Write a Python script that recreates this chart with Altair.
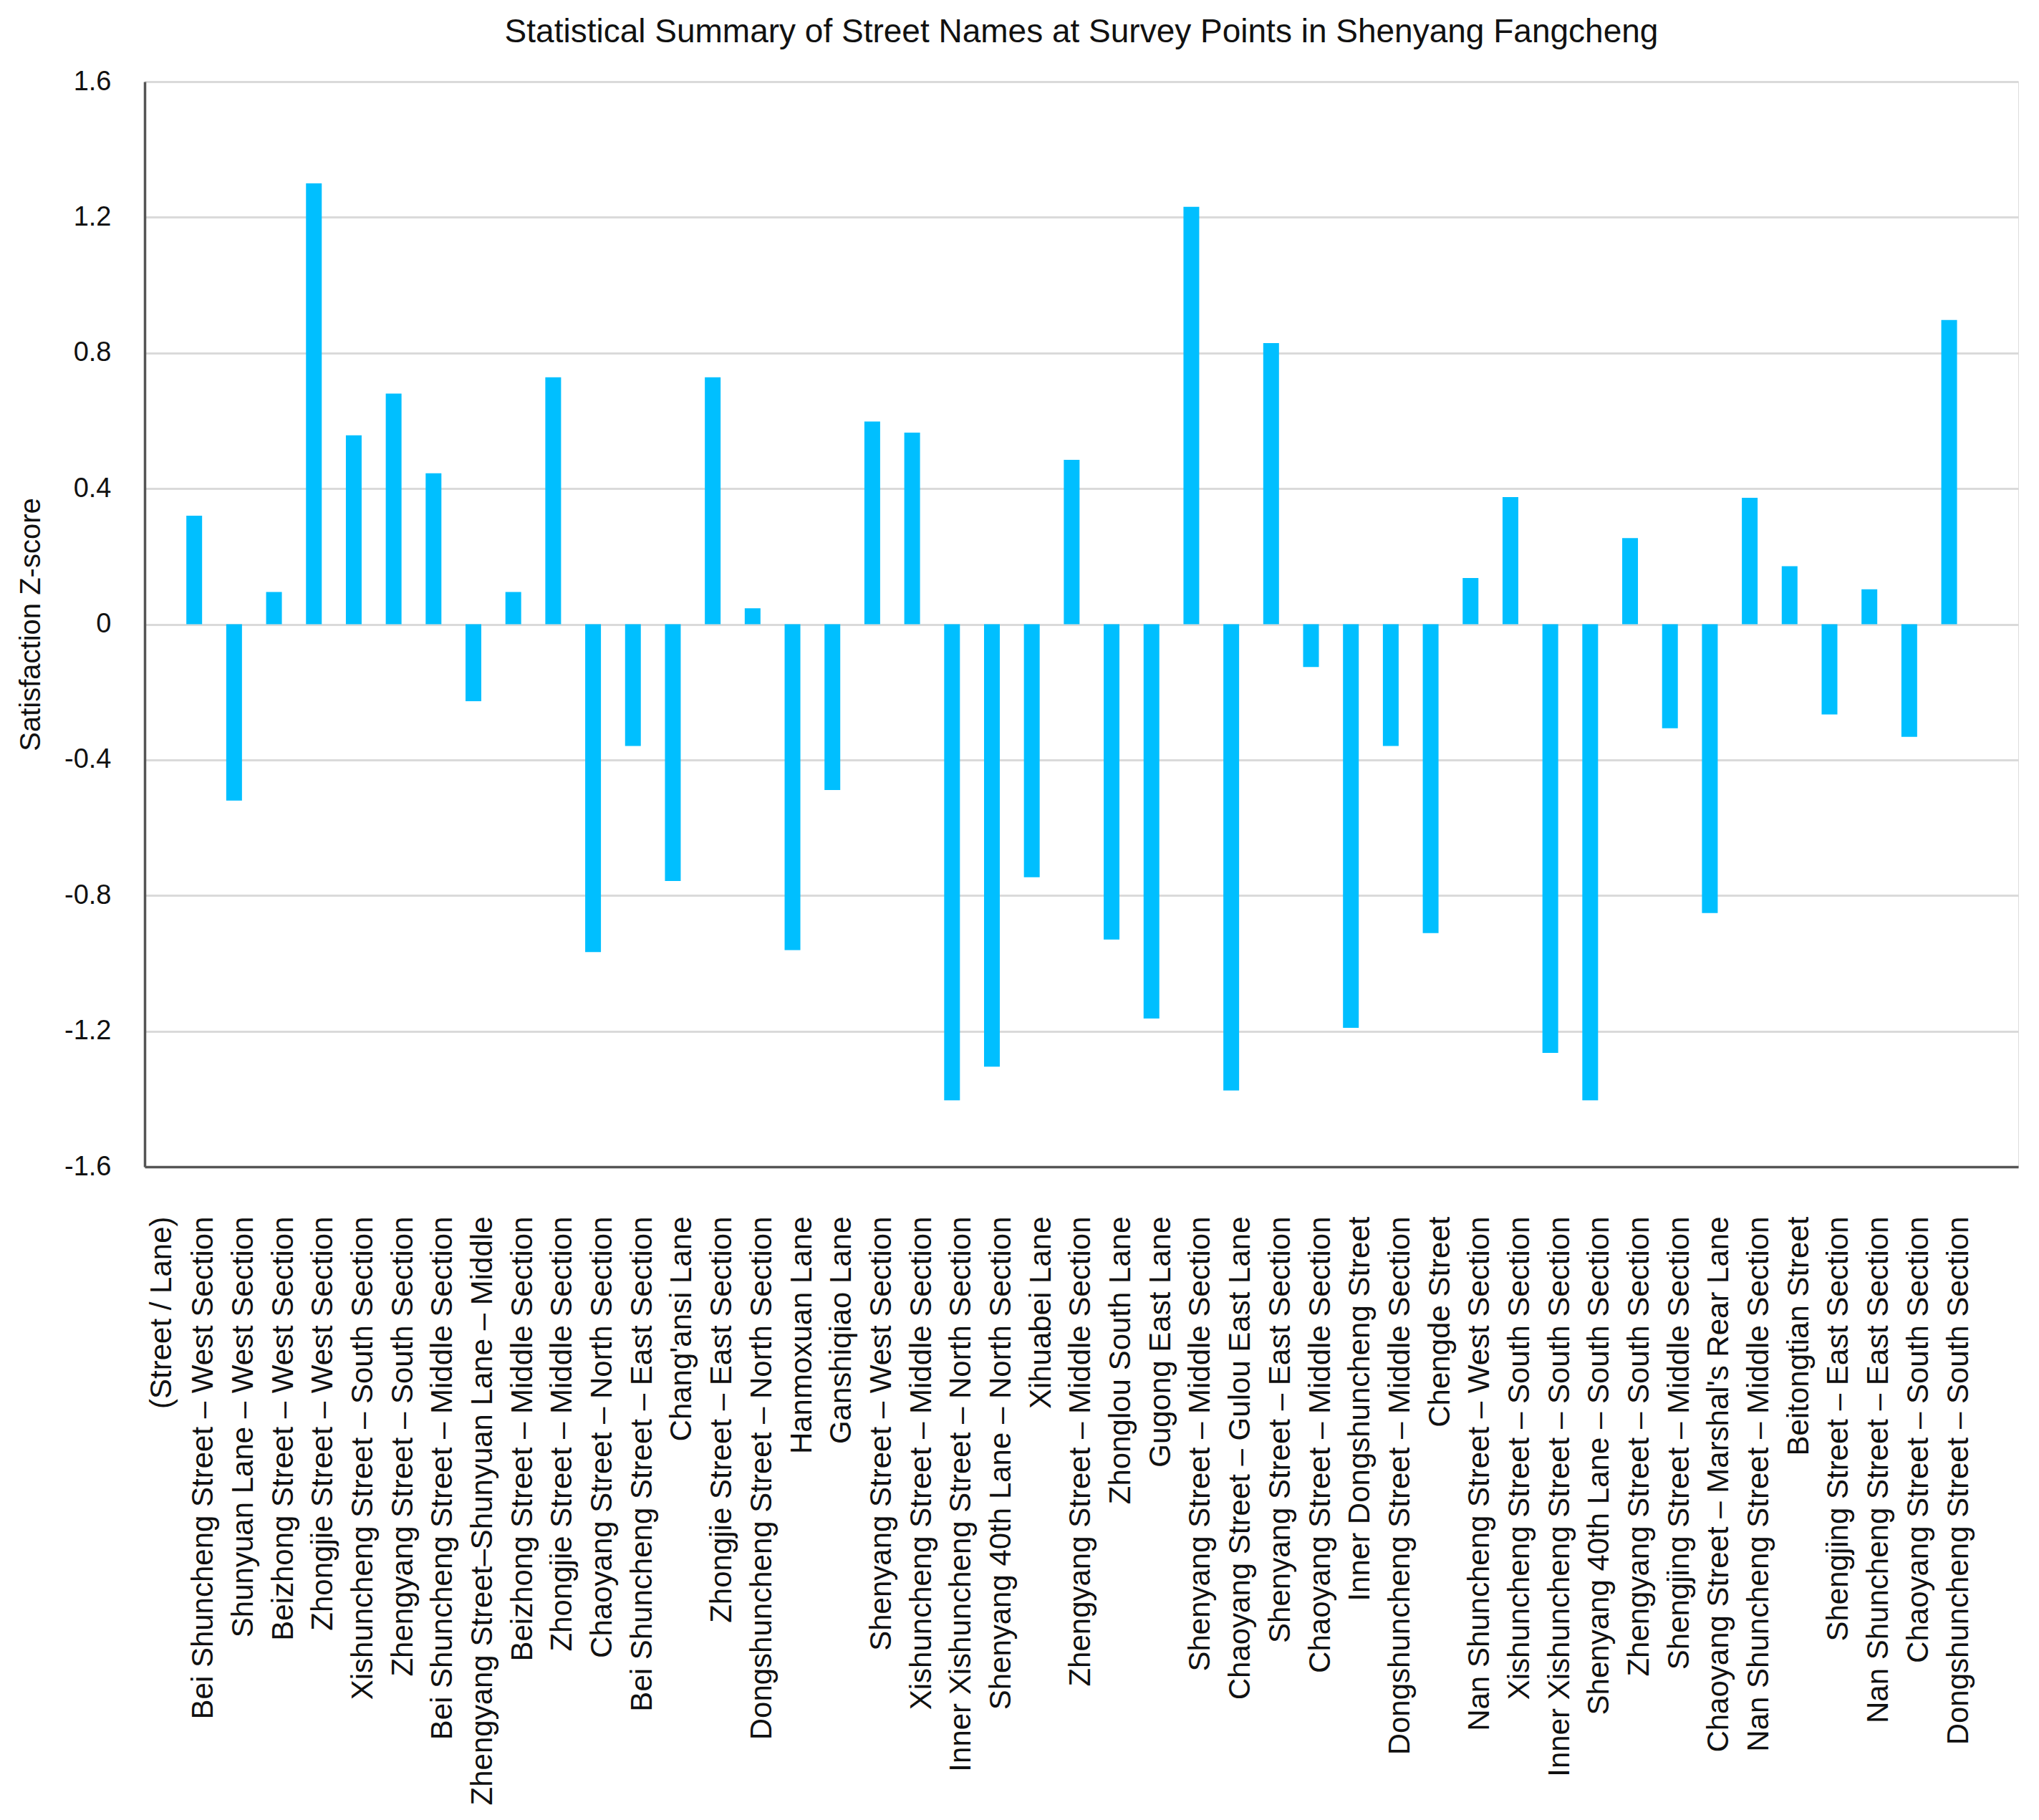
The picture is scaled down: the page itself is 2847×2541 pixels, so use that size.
import json
import altair as alt
import pandas as pd

# ---- data ----
street_names = [
    "Bei Shuncheng Street – West Section",
    "Shunyuan Lane – West Section",
    "Beizhong Street – West Section",
    "Zhongjie Street – West Section",
    "Xishuncheng Street – South Section",
    "Zhengyang Street – South Section",
    "Bei Shuncheng Street – Middle Section",
    "Zhengyang Street–Shunyuan Lane – Middle",
    "Beizhong Street – Middle Section",
    "Zhongjie Street – Middle Section",
    "Chaoyang Street – North Section",
    "Bei Shuncheng Street – East Section",
    "Chang'ansi Lane",
    "Zhongjie Street – East Section",
    "Dongshuncheng Street – North Section",
    "Hanmoxuan Lane",
    "Ganshiqiao Lane",
    "Shenyang Street – West Section",
    "Xishuncheng Street – Middle Section",
    "Inner Xishuncheng Street – North Section",
    "Shenyang 40th Lane – North Section",
    "Xihuabei Lane",
    "Zhengyang Street – Middle Section",
    "Zhonglou South Lane",
    "Gugong East Lane",
    "Shenyang Street – Middle Section",
    "Chaoyang Street – Gulou East Lane",
    "Shenyang Street – East Section",
    "Chaoyang Street – Middle Section",
    "Inner Dongshuncheng Street",
    "Dongshuncheng Street – Middle Section",
    "Chengde Street",
    "Nan Shuncheng Street – West Section",
    "Xishuncheng Street – South Section",
    "Inner Xishuncheng Street – South Section",
    "Shenyang 40th Lane – South Section",
    "Zhengyang Street – South Section",
    "Shengjing Street – Middle Section",
    "Chaoyang Street – Marshal's Rear Lane",
    "Nan Shuncheng Street – Middle Section",
    "Beitongtian Street",
    "Shengjing Street – East Section",
    "Nan Shuncheng Street – East Section",
    "Chaoyang Street – South Section",
    "Dongshuncheng Street – South Section",
]

z_scores = [
    0.32, -0.52, 0.095, 1.30, 0.557, 0.68, 0.445, -0.227, 0.095, 0.728,
    -0.967, -0.359, -0.757, 0.728, 0.047, -0.961, -0.489, 0.598, 0.565, -1.404,
    -1.305, -0.746, 0.485, -0.930, -1.163, 1.231, -1.375, 0.829, -0.126, -1.190,
    -0.359, -0.911, 0.136, 0.375, -1.264, -1.404, 0.254, -0.307, -0.852, 0.373,
    0.171, -0.266, 0.103, -0.332, 0.897,
]

axis_header = "(Street / Lane)"
y_ticks = [-1.6, -1.2, -0.8, -0.4, 0, 0.4, 0.8, 1.2, 1.6]

title_text = "Statistical Summary of Street Names at Survey Points in Shenyang Fangcheng"
y_title = "Satisfaction Z-score"

# ---- build table ----
df = pd.DataFrame({
    "idx": list(range(len(street_names))),
    "name": street_names,
    "z": z_scores,
})

# label lookup (first label carries the header line)
label_list = [[axis_header, street_names[0]]] + street_names[1:]
label_expr = json.dumps(label_list, ensure_ascii=False) + "[datum.value]"

FONT = "Liberation Sans, Arial, Helvetica, sans-serif"
PLOT_W = 2616
PLOT_H = 1515

x_axis = alt.Axis(
    title=None,
    labelExpr=label_expr,
    labelAngle=-90,
    labelFont=FONT,
    labelFontSize=42,
    labelColor="#111111",
    labelPadding=69,
    labelLimit=2000,
    labelLineHeight=58,
    labelOffset={"condition": {"test": "datum.value === 0", "value": -45}, "value": 13},
    ticks=False,
    tickSize=0,
    grid=False,
    domain=True,
    domainColor="#555555",
    domainWidth=3.5,
    labelOverlap=False,
)

y_axis = alt.Axis(
    title=y_title,
    values=y_ticks,
    labelExpr="toString(round(datum.value*10)/10)",
    labelFont=FONT,
    labelFontSize=38,
    labelColor="#111111",
    labelPadding=47,
    ticks=False,
    tickSize=0,
    grid=True,
    gridColor="#dadada",
    gridWidth=3,
    domain=True,
    domainColor="#555555",
    domainWidth=3.5,
    titleFont=FONT,
    titleFontSize=40,
    titleFontWeight="normal",
    titleColor="#111111",
    titlePadding=26,
)

chart = (
    alt.Chart(df)
    .mark_bar(color="#00BFFF", width={"band": 0.395})
    .encode(
        x=alt.X(
            "idx:O",
            axis=x_axis,
            scale=alt.Scale(paddingInner=0, paddingOuter=0.987, align=0.376),
        ),
        y=alt.Y("z:Q", axis=y_axis, scale=alt.Scale(domain=[-1.6, 1.6], nice=False)),
    )
    .properties(
        width=PLOT_W,
        height=PLOT_H,
        padding={"left": 15, "top": 14, "right": 20, "bottom": 10},
        title=alt.TitleParams(
            text=title_text,
            font=FONT,
            fontSize=46,
            fontWeight="normal",
            color="#111111",
            anchor="middle",
            offset=26,
        ),
    )
    .configure_view(strokeWidth=0, strokeOpacity=0)
    .configure(background="white")
)

chart.save("out.html", embed_options={"renderer": "svg", "actions": False})
